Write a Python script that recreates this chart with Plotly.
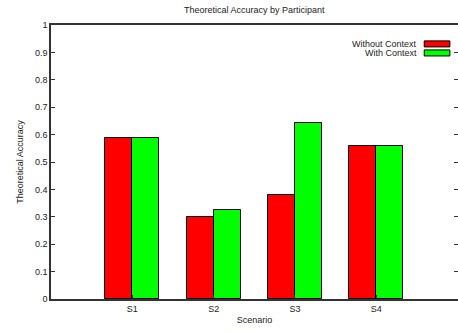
import plotly.graph_objects as go

categories = ["S1", "S2", "S3", "S4"]
series_names = ["Without Context", "With Context"]
without_context = [0.588, 0.298, 0.381, 0.560]
with_context = [0.588, 0.325, 0.643, 0.560]
y_ticks = [0, 0.1, 0.2, 0.3, 0.4, 0.5, 0.6, 0.7, 0.8, 0.9, 1]
y_tick_labels = ["0", "0.1", "0.2", "0.3", "0.4", "0.5", "0.6", "0.7", "0.8", "0.9", "1"]

colors = ["#ff0000", "#00ff00"]
xpos = [i + 1 for i in range(len(categories))]
bw = 1 / 3

fig = go.Figure()
for name, vals, col, off in zip(series_names, [without_context, with_context], colors, [-bw, 0]):
    fig.add_trace(go.Bar(
        x=xpos, y=vals, name=name, width=bw, offset=off,
        marker=dict(color=col, line=dict(color="black", width=1)),
        showlegend=False,
    ))

font = dict(family="Liberation Sans, Arial, sans-serif", size=9, color="#222")

# gnuplot-style key: text right-aligned, swatch to the right
for i, (name, col) in enumerate(zip(series_names, colors)):
    yk = 0.931 - i * 0.033
    fig.add_annotation(x=0.905, y=yk, xref="paper", yref="paper", text=name,
                       showarrow=False, xanchor="right", yanchor="middle", font=font)
    fig.add_shape(type="rect", xref="paper", yref="paper",
                  x0=0.917, x1=0.98, y0=yk - 0.011, y1=yk + 0.011,
                  fillcolor=col, line=dict(color="black", width=1))

fig.update_layout(
    width=458, height=333,
    margin=dict(l=51, r=0, t=25, b=34, autoexpand=False),
    plot_bgcolor="white", paper_bgcolor="white",
    font=font,
    title=dict(text="Theoretical Accuracy by Participant", x=0.555, xanchor="center",
               y=0.97, yanchor="middle", font=dict(size=9)),
    bargap=0,
)
fig.update_xaxes(
    range=[0, 5.005], tickmode="array", tickvals=xpos, ticktext=categories,
    ticks="inside", ticklen=4, tickcolor="#333", showline=True, linecolor="#333", linewidth=1.5,
    mirror=True, showgrid=False, zeroline=False, automargin=False,
    title=dict(text="Scenario", standoff=4, font=dict(size=9)),
)
fig.update_yaxes(
    range=[0, 1], tickmode="array", tickvals=y_ticks, ticktext=y_tick_labels,
    ticks="inside", ticklen=4, tickcolor="#333", showline=True, linecolor="#333", linewidth=1.5,
    mirror="ticks", showgrid=False, zeroline=False, automargin=False,
    title=dict(text="Theoretical Accuracy", standoff=10, font=dict(size=9)),
)

fig.write_html(
    "out.html",
    config={"displayModeBar": False},
    post_script=("document.documentElement.style.margin='0';"
                 "document.documentElement.style.overflow='hidden';"
                 "document.body.style.margin='0';document.body.style.overflow='hidden';"),
)
